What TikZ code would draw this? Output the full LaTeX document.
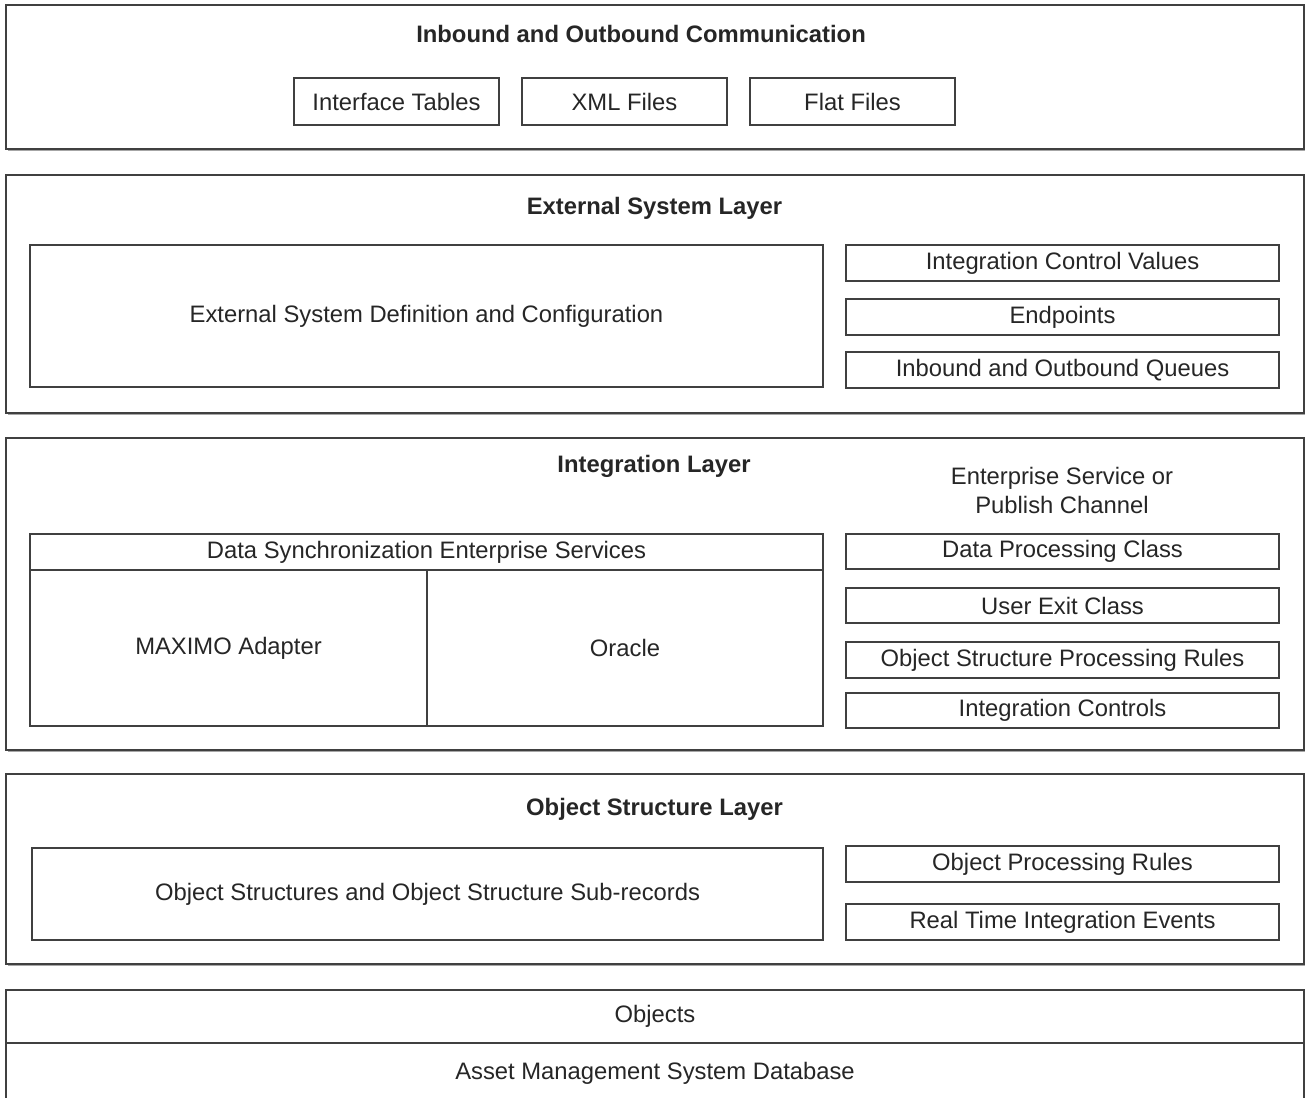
\documentclass[tikz,border=0pt]{standalone}
\usepackage{fontspec}
\setmainfont{Liberation Sans}
\begin{document}
\begin{tikzpicture}[x=1pt,y=-1pt,
  every node/.style={font=\fontsize{23.8}{28}\selectfont, text=black!85, inner sep=0pt},
  layer/.style={draw=black!75, line width=1.8pt, fill=white, anchor=center},
  item/.style={draw=black!75, line width=1.3pt, fill=white, anchor=center},
  title/.style={font=\fontsize{23.8}{28}\selectfont\bfseries},
  plain/.style={align=center}
]
\clip (0,0) rectangle (1305,1097);
\fill[white] (0,0) rectangle (1305,1097);

% layer frames with a faint drop shadow
\foreach \cy/\h in {77/144, 294/238, 594/312, 869/190, 1045/110}{
  \fill[black!35] (7.5,\cy-\h/2+1.5) rectangle (1306.5,\cy+\h/2+1.5);
}

% ---- Inbound and Outbound Communication ----
\node[layer, minimum width=1298pt, minimum height=144pt] (comm) at (655,77) {};
\node[title] (commT) at (641,34) {Inbound and Outbound Communication};
\node[item, minimum width=205pt, minimum height=47pt] (itab) at (396.5,101.5) {Interface Tables};
\node[item, minimum width=205pt, minimum height=47pt] (xml) at (624.5,101.5) {XML Files};
\node[item, minimum width=205pt, minimum height=47pt] (flat) at (852.5,101.5) {Flat Files};

% ---- External System Layer ----
\node[layer, minimum width=1298pt, minimum height=238pt] (ext) at (655,294) {};
\node[title] (extT) at (654.5,208) {External System Layer};
\node[item, minimum width=793pt, minimum height=142pt] (esd) at (426.5,316) {External System Definition and Configuration};
\node[item, minimum width=433pt, minimum height=36pt] (icv) at (1062.5,263) {Integration Control Values};
\node[item, minimum width=433pt, minimum height=36pt] (endp) at (1062.5,317) {Endpoints};
\node[item, minimum width=433pt, minimum height=36pt] (queues) at (1062.5,370) {Inbound and Outbound Queues};

% ---- Integration Layer ----
\node[layer, minimum width=1298pt, minimum height=312pt] (intg) at (655,594) {};
\node[title] (intgT) at (654,466) {Integration Layer};
\node[plain] (espc) at (1062,490.5) {Enterprise Service or\\[1pt]Publish Channel};
\node[item, minimum width=793pt, minimum height=36pt] (dses) at (426.5,552) {Data Synchronization Enterprise Services};
\node[item, minimum width=397pt, minimum height=156pt] (maximo) at (228.5,648) {MAXIMO Adapter};
\node[item, minimum width=396pt, minimum height=156pt] (oracle) at (625,648) {Oracle};
\node[item, minimum width=433pt, minimum height=35pt] (dpc) at (1062.5,551.5) {Data Processing Class};
\node[item, minimum width=433pt, minimum height=35pt] (uec) at (1062.5,605.5) {User Exit Class};
\node[item, minimum width=433pt, minimum height=36pt] (ospr) at (1062.5,660) {Object Structure Processing Rules};
\node[item, minimum width=433pt, minimum height=35pt] (ictl) at (1062.5,710.5) {Integration Controls};

% ---- Object Structure Layer ----
\node[layer, minimum width=1298pt, minimum height=190pt] (obj) at (655,869) {};
\node[title] (objT) at (654.5,809) {Object Structure Layer};
\node[item, minimum width=791pt, minimum height=92pt] (oss) at (427.5,894) {Object Structures and Object Structure Sub-records};
\node[item, minimum width=433pt, minimum height=36pt] (opr) at (1062.5,864) {Object Processing Rules};
\node[item, minimum width=433pt, minimum height=36pt] (rtie) at (1062.5,922) {Real Time Integration Events};

% ---- Objects / database ----
\node[layer, minimum width=1298pt, minimum height=53pt] (objects) at (655,1016.5) {Objects};
\node[layer, minimum width=1298pt, minimum height=60pt] (amsdb) at (655,1073) {Asset Management System Database};
\end{tikzpicture}
\end{document}
